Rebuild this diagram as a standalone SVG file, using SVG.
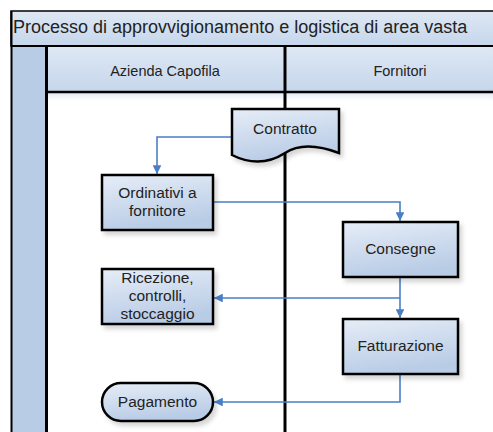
<svg xmlns="http://www.w3.org/2000/svg" width="493" height="432" viewBox="0 0 493 432">
<style>
.node{stroke:#000;stroke-width:2.5;fill:url(#ng);filter:url(#sh)}
.t{font-family:"Liberation Sans",Arial,sans-serif;font-size:15.5px;fill:#222;text-anchor:middle}
.h{font-family:"Liberation Sans",Arial,sans-serif;font-size:14.5px;fill:#222;text-anchor:middle}
.c{fill:none;stroke:#4a7fc6;stroke-width:1.6;marker-end:url(#ar)}
</style>
<defs>
<linearGradient id="ng" x1="0" y1="0" x2="0.3" y2="1">
<stop offset="0" stop-color="#e6edf7"/>
<stop offset="1" stop-color="#b9cce6"/>
</linearGradient>
<linearGradient id="hg" x1="0" y1="0" x2="0" y2="1">
<stop offset="0" stop-color="#dfe8f4"/>
<stop offset="1" stop-color="#c5d6eb"/>
</linearGradient>
<linearGradient id="bg" x1="0" y1="0" x2="0" y2="1">
<stop offset="0" stop-color="#e3ebf6"/>
<stop offset="1" stop-color="#ffffff"/>
</linearGradient>
<filter id="sh" x="-20%" y="-20%" width="150%" height="150%">
<feDropShadow dx="3" dy="4" stdDeviation="2" flood-color="#000" flood-opacity="0.16"/>
</filter>
<marker id="ar" viewBox="0 0 10 10" refX="10" refY="5" markerWidth="5.5" markerHeight="5.5" orient="auto" markerUnits="strokeWidth">
<path d="M0,0 L10,5 L0,10 z" fill="#4a7fc6"/>
</marker>
</defs>
<rect width="493" height="432" fill="#fff"/>
<g id="pool">
<rect x="11" y="11" width="490" height="35" fill="url(#hg)" stroke="#000" stroke-width="1.5"/>
<text x="13" y="33" font-family="'Liberation Sans',Arial,sans-serif" font-size="18" fill="#222">Processo di approvvigionamento e logistica di area vasta</text>
<rect x="11" y="46" width="36" height="400" fill="#b9cce5"/>
<rect x="47" y="46" width="450" height="46" fill="url(#hg)"/>
<rect x="47" y="93" width="450" height="8" fill="url(#bg)"/>
<line x1="11" y1="46" x2="493" y2="46" stroke="#000" stroke-width="2"/>
<line x1="47" y1="92" x2="493" y2="92" stroke="#000" stroke-width="2.5"/>
<line x1="11.5" y1="11" x2="11.5" y2="432" stroke="#000" stroke-width="2"/>
<line x1="46.5" y1="46" x2="46.5" y2="432" stroke="#000" stroke-width="3"/>
<line x1="285" y1="46" x2="285" y2="432" stroke="#000" stroke-width="3"/>
<text class="h" x="165" y="76">Azienda Capofila</text>
<text class="h" x="400" y="76">Fornitori</text>
</g>
<g id="connectors">
<path class="c" d="M231,137 H157 V174"/>
<path class="c" d="M213,202 H400 V221"/>
<path class="c" d="M400,277 V318"/>
<path class="c" d="M400,298 H214"/>
<path class="c" d="M400,374 V402 H214"/>
</g>
<g id="contratto">
<path class="node" d="M232,109 H339 V153 C318,145 300,143 285,153 C268,164 250,164 232,155 Z"/>
<text class="t" x="285" y="134">Contratto</text>
</g>
<g id="ordinativi">
<rect class="node" x="102" y="175" width="111" height="55"/>
<text class="t" x="157.5" y="198">Ordinativi a</text>
<text class="t" x="157.5" y="216">fornitore</text>
</g>
<g id="consegne">
<rect class="node" x="343" y="222" width="115" height="55"/>
<text class="t" x="400.5" y="254">Consegne</text>
</g>
<g id="ricezione">
<rect class="node" x="102" y="269" width="111" height="55"/>
<text class="t" x="157.5" y="283">Ricezione,</text>
<text class="t" x="157.5" y="301">controlli,</text>
<text class="t" x="157.5" y="319">stoccaggio</text>
</g>
<g id="fatturazione">
<rect class="node" x="343" y="319" width="115" height="55"/>
<text class="t" x="400.5" y="351">Fatturazione</text>
</g>
<g id="pagamento">
<rect class="node" x="102" y="383" width="111" height="38" rx="19" ry="19"/>
<text class="t" x="157.5" y="407">Pagamento</text>
</g>
</svg>
